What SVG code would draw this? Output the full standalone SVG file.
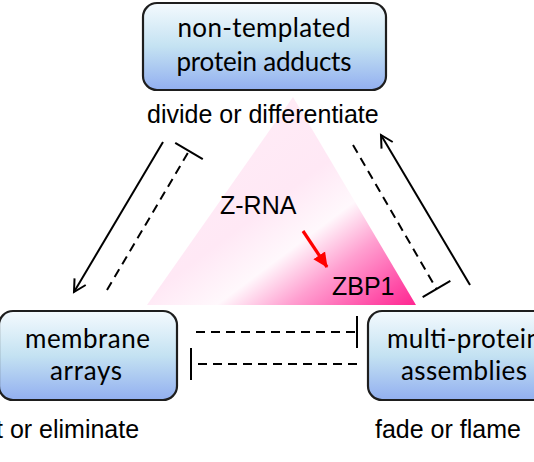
<svg xmlns="http://www.w3.org/2000/svg" width="534" height="462" viewBox="0 0 534 462">
<defs>
<linearGradient id="boxg" x1="0" y1="0" x2="0" y2="1">
<stop offset="0" stop-color="#F4FAFE"/>
<stop offset="0.5" stop-color="#C4E2F2"/>
<stop offset="1" stop-color="#92AFF0"/>
</linearGradient>
<linearGradient id="trig" gradientUnits="userSpaceOnUse" x1="293" y1="97" x2="437.6" y2="289.8">
<stop offset="0" stop-color="#FFEBF6"/>
<stop offset="0.3" stop-color="#FFE8F5"/>
<stop offset="0.5" stop-color="#FFF8FC"/>
<stop offset="0.68" stop-color="#FF9FD0"/>
<stop offset="0.88" stop-color="#FF4FA8"/>
<stop offset="1" stop-color="#FF2590"/>
</linearGradient>
<marker id="arr" markerUnits="userSpaceOnUse" markerWidth="16" markerHeight="16" refX="13" refY="8" orient="auto" viewBox="0 0 16 16">
<path d="M1,1.5 L13,8 L1,14.5" fill="none" stroke="#000" stroke-width="2"/>
</marker>
<marker id="tee" markerUnits="userSpaceOnUse" markerWidth="4" markerHeight="34" refX="2" refY="17" orient="auto" viewBox="0 0 4 34">
<path d="M2,1 L2,33" stroke="#000" stroke-width="2"/>
</marker>
<marker id="red" markerUnits="userSpaceOnUse" markerWidth="16" markerHeight="16" refX="14" refY="8" orient="auto" viewBox="0 0 16 16">
<path d="M0,1 L15,8 L0,15 Z" fill="#FF0000"/>
</marker>
</defs>
<style>
.box{fill:url(#boxg);stroke:#1E1E1E;stroke-width:2.2}
.bt{font-family:Lato,"Noto Sans",sans-serif;font-size:26px;fill:#000}
.lb{font-family:"Liberation Sans",Arial,sans-serif;font-size:25px;fill:#000}
.sol{fill:none;stroke:#000;stroke-width:2}
.dsh{fill:none;stroke:#000;stroke-width:2;stroke-dasharray:9 6}
</style>
<g id="triangle">
<polygon points="293,97 416,305 147,305" fill="url(#trig)"/>
<text class="lb" x="220" y="214">Z-RNA</text>
<text class="lb" x="332" y="295">ZBP1</text>
<line x1="303" y1="231" x2="327" y2="267" stroke="#FF0000" stroke-width="3.2" marker-end="url(#red)"/>
</g>
<g id="node-top">
<rect class="box" x="143" y="3" width="243" height="87" rx="14"/>
<text class="bt" x="264" y="37" text-anchor="middle" textLength="173">non-templated</text>
<text class="bt" x="264" y="71" text-anchor="middle" textLength="175">protein adducts</text>
<text class="lb" x="147" y="123">divide or differentiate</text>
</g>
<g id="node-left">
<rect class="box" x="-1" y="311" width="178" height="89" rx="14"/>
<text class="bt" x="87.5" y="348" text-anchor="middle" textLength="125">membrane</text>
<text class="bt" x="86" y="380" text-anchor="middle" textLength="72">arrays</text>
<text class="lb" x="-4" y="438">t or eliminate</text>
</g>
<g id="node-right">
<rect class="box" x="368" y="311" width="190" height="89" rx="14"/>
<text class="bt" x="387" y="348" textLength="154">multi-protein</text>
<text class="bt" x="401" y="380" textLength="126">assemblies</text>
<text class="lb" x="375" y="438">fade or flame</text>
</g>
<g id="connectors">
<line class="sol" x1="163" y1="142" x2="74" y2="292" marker-end="url(#arr)"/>
<line class="dsh" x1="107" y1="290" x2="189" y2="151" marker-end="url(#tee)"/>
<line class="sol" x1="470" y1="285" x2="381" y2="135" marker-end="url(#arr)"/>
<line class="dsh" x1="353" y1="145" x2="436.5" y2="289" marker-end="url(#tee)"/>
<line class="dsh" x1="196" y1="332" x2="357" y2="332" marker-end="url(#tee)"/>
<line class="dsh" x1="357" y1="364" x2="191" y2="364" marker-end="url(#tee)"/>
</g>
</svg>
